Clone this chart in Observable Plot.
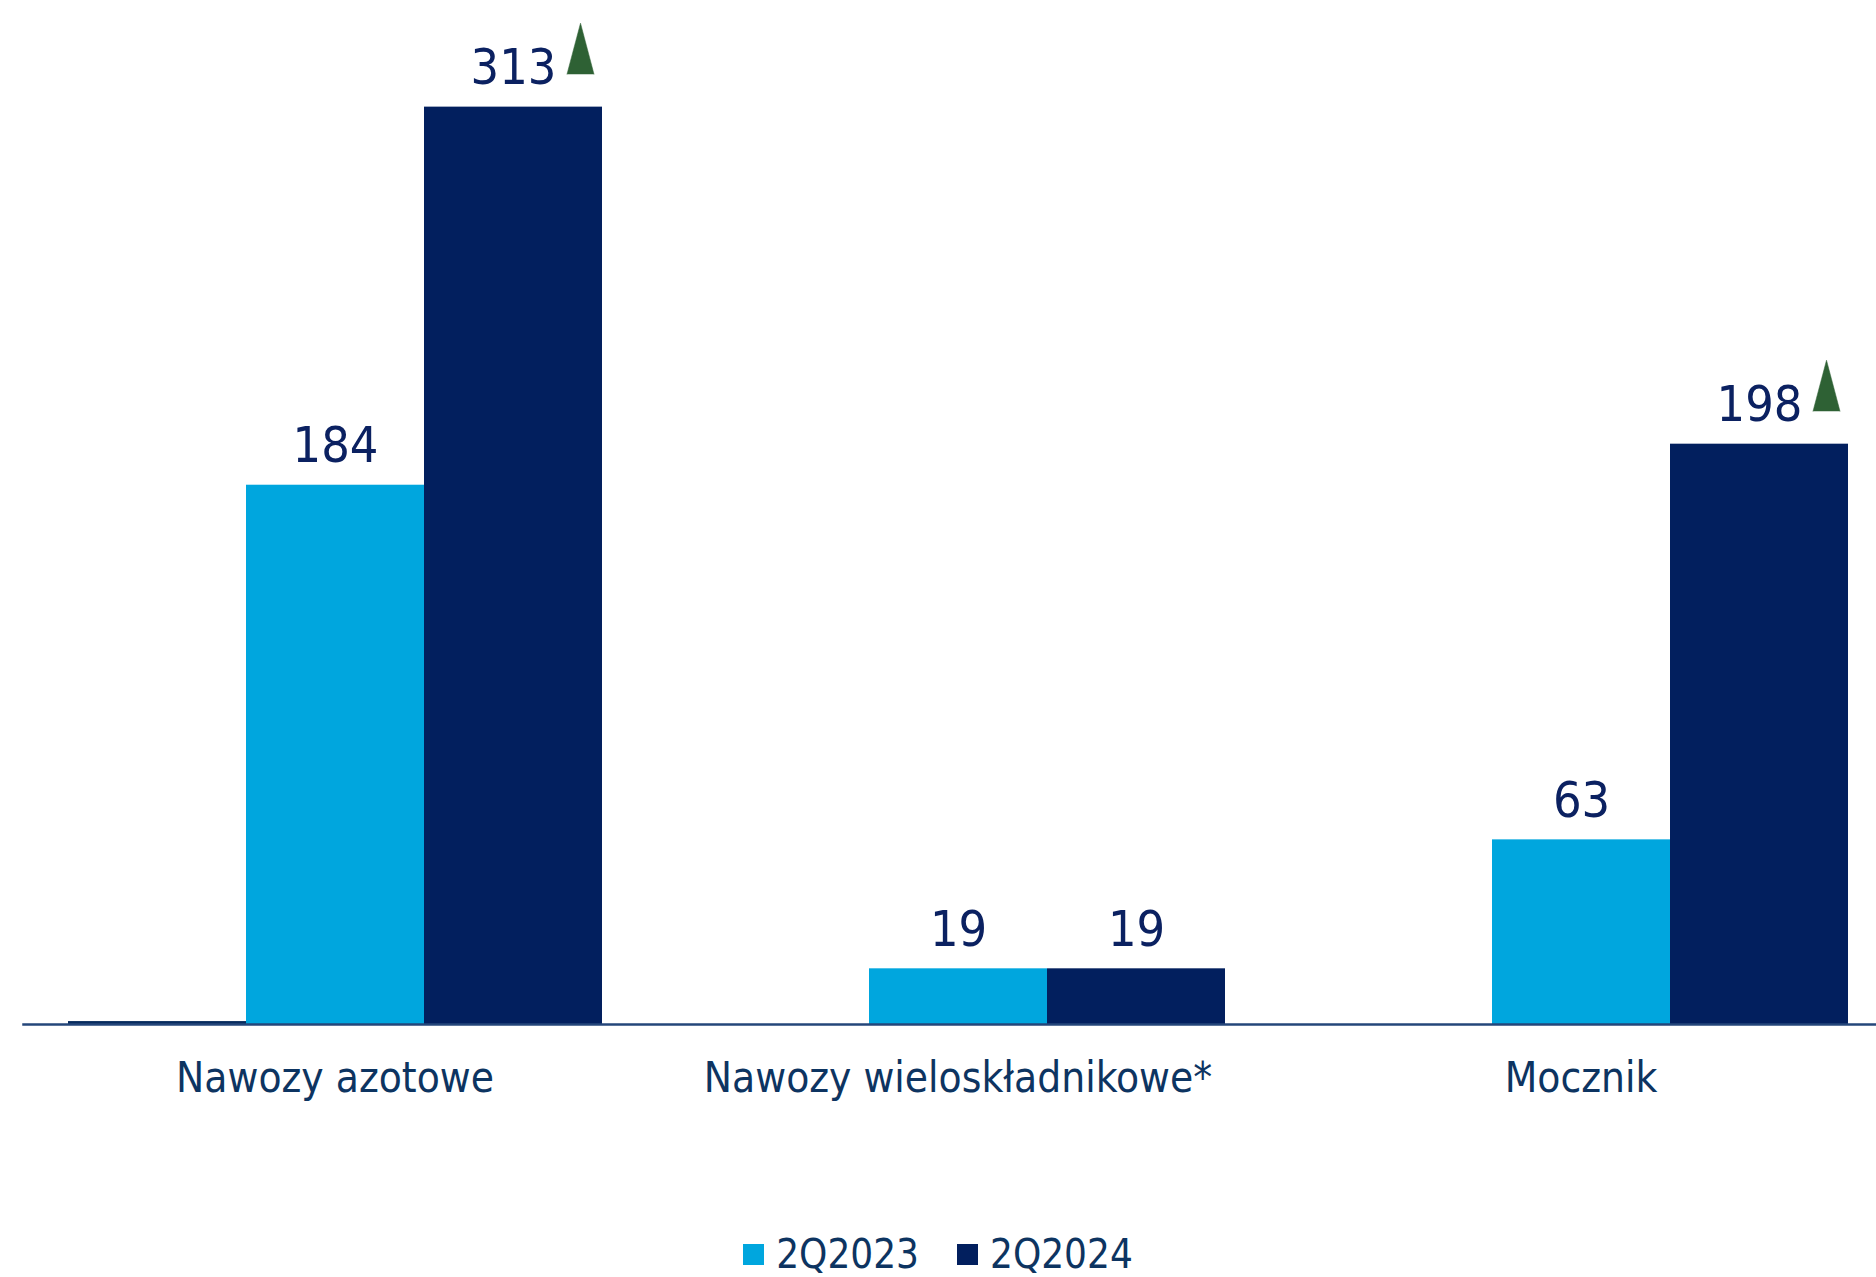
<!DOCTYPE html>
<html>
<head>
<meta charset="utf-8">
<script src="https://cdn.jsdelivr.net/npm/d3@7"></script>
<script src="https://cdn.jsdelivr.net/npm/@observablehq/plot@0.6"></script>
<style>
  html, body { margin: 0; padding: 0; background: #ffffff; }
  body { width: 1876px; height: 1277px; overflow: hidden; font-family: "DejaVu Sans Condensed", "DejaVu Sans", sans-serif; font-stretch: condensed; }
  #legend { height: 77px; box-sizing: border-box; padding-top: 31px; display: flex; justify-content: center; align-items: center; }
  .item { display: flex; align-items: center; font-size: 40px; color: #0d3461; }
  .item + .item { margin-left: 38px; }
  .sw { width: 21px; height: 21px; margin-right: 12px; }
</style>
</head>
<body>
<div id="chart"></div>
<div id="legend"></div>
<script>
const categories = ["Nawozy azotowe", "Nawozy wieloskładnikowe*", "Mocznik"];
const seriesKeys = ["inne", "2Q2023", "2Q2024"];
const legendSeries = ["2Q2023", "2Q2024"];
const seriesColors = ["#072b5e", "#00a6de", "#021f5e"];
const valuesInne = [1, 0, 0];
const values2023 = [184, 19, 63];
const values2024 = [313, 19, 198];
const up2024 = [true, false, true];

const rows = [];
categories.forEach((c, i) => {
  rows.push({category: c, series: "inne", value: valuesInne[i], label: false, up: false});
  rows.push({category: c, series: "2Q2023", value: values2023[i], label: true, up: false});
  rows.push({category: c, series: "2Q2024", value: values2024[i], label: true, up: up2024[i]});
});

const fontFamily = "'DejaVu Sans Condensed', 'DejaVu Sans', sans-serif";

const chart = Plot.plot({
  width: 1876,
  height: 1200,
  marginLeft: 66,
  marginRight: 28,
  marginTop: 27.5,
  marginBottom: 176,
  style: {fontFamily, background: "#ffffff"},
  fx: {domain: categories, paddingInner: 0.142, paddingOuter: 0, label: null, axis: null},
  x: {domain: seriesKeys, padding: 0, axis: null},
  y: {domain: [0, 340], axis: null},
  color: {domain: seriesKeys, range: seriesColors},
  marks: [
    Plot.barY(rows, {fx: "category", x: "series", y: "value", fill: "series", inset: 0}),
    Plot.frame({anchor: "bottom", facet: "super", stroke: "#24467a", strokeWidth: 2.5, insetLeft: -44, insetRight: -28}),
    Plot.text(rows.filter(d => d.label), {fx: "category", x: "series", y: "value", text: d => String(d.value), lineAnchor: "bottom", dy: -23, fontSize: 50, fill: "#0b2161"}),
    Plot.vector(rows.filter(d => d.up), {fx: "category", x: "series", y: "value", shape: "spike", r: 13.5, length: 51, anchor: "start", dx: 67, dy: -33, fill: "#2e6134", stroke: "#2e6134", strokeWidth: 0.5}),
    Plot.axisFx({anchor: "bottom", tickSize: 0, tickPadding: 38, fontSize: 42, color: "#0d3461", label: null})
  ]
});
document.getElementById("chart").appendChild(chart);

const legend = document.getElementById("legend");
legendSeries.forEach(s => {
  const item = document.createElement("div");
  item.className = "item";
  const sw = document.createElement("div");
  sw.className = "sw";
  sw.style.background = seriesColors[seriesKeys.indexOf(s)];
  const t = document.createElement("span");
  t.textContent = s;
  item.appendChild(sw);
  item.appendChild(t);
  legend.appendChild(item);
});
</script>
</body>
</html>
